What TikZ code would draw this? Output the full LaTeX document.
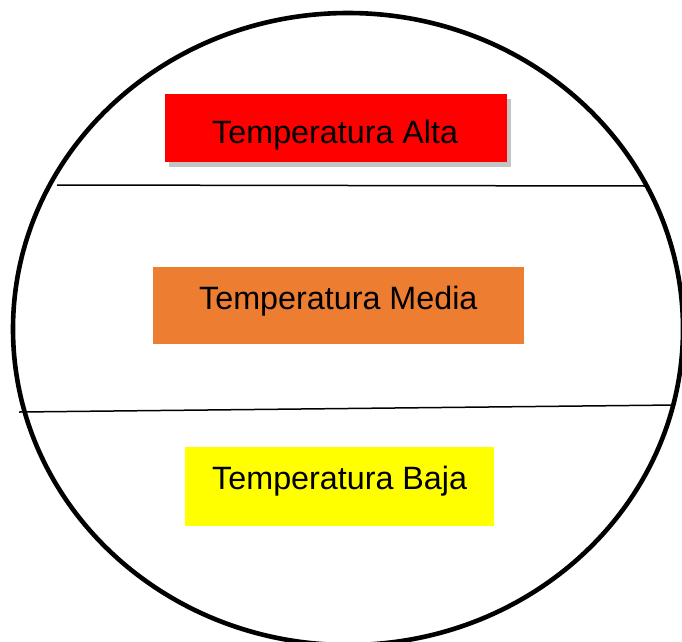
\documentclass[tikz,border=0pt]{standalone}
\usepackage{fontspec}
\setmainfont{Liberation Sans}
\definecolor{hotred}{HTML}{FF0000}
\definecolor{midorange}{HTML}{ED7D31}
\definecolor{lowyellow}{HTML}{FFFF00}
\definecolor{shadowgray}{HTML}{C4C4C4}
\begin{document}
\begin{tikzpicture}[x=1pt,y=-1pt,
  band/.style={draw=none,inner sep=0pt,anchor=north west},
  label/.style={anchor=base west,inner sep=0pt,font=\fontsize{32.3}{36}\selectfont,text=black},
  divider/.style={line width=1.5pt,black}]
\useasboundingbox (0,0) rectangle (682,641);
\clip (0,0) rectangle (682,641);
\fill[white] (0,0) rectangle (682,641);
% red box with shadow
\fill[shadowgray] (169,99) rectangle (511,167);
\node[band,fill=hotred,minimum width=342pt,minimum height=68pt] (alta) at (165,94) {};
\node[label] (altatext) at (212,143) {Temperatura Alta};
% orange box
\node[band,fill=midorange,minimum width=371pt,minimum height=77pt] (media) at (153,267) {};
\node[label] (mediatext) at (199,309) {Temperatura Media};
% yellow box
\node[band,fill=lowyellow,minimum width=309pt,minimum height=79pt] (baja) at (185,447) {};
\node[label] (bajatext) at (212,489) {Temperatura Baja};
% dividers
\coordinate (d1a) at (57,185);
\coordinate (d1b) at (648,186);
\coordinate (d2a) at (19,412);
\coordinate (d2b) at (675,405);
\draw[divider] (d1a) -- (d1b);
\draw[divider] (d2a) -- (d2b);
% outer ellipse
\draw[line width=4.6pt,black] (348,329) ellipse [x radius=335pt, y radius=316pt];
\end{tikzpicture}
\end{document}
